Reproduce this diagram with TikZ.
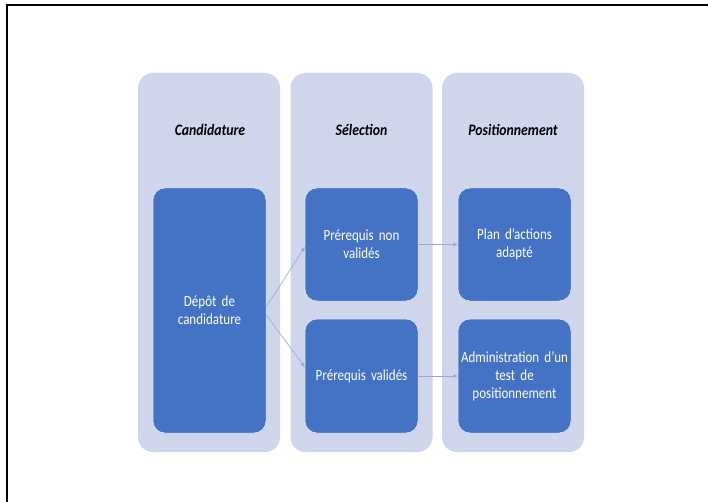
\documentclass[tikz,border=0pt]{standalone}
\usepackage{fontspec}
\setmainfont{Carlito}
\newfontfamily\narrowfont[FakeStretch=0.84]{Carlito}
\newfontfamily\titlefont[FakeStretch=0.86]{Carlito}
\newcommand\boxfont{\narrowfont\fontsize{15.5}{18}\selectfont\fontdimen2\font=3pt\relax}
\usetikzlibrary{arrows.meta,calc}
\definecolor{colbg}{HTML}{CFD5EA}
\definecolor{boxbg}{HTML}{4472C4}
\definecolor{arrowc}{HTML}{8FAADC}
\begin{document}
\begin{tikzpicture}[x=1pt,y=-1pt,
  column/.style={fill=colbg,rounded corners=15pt,minimum width=142pt,minimum height=379pt,inner sep=0pt,draw=none},
  title/.style={font=\titlefont\fontsize{16}{19}\selectfont\bfseries\itshape,text=black,inner sep=0pt},
  stepbox/.style={fill=boxbg,draw=colbg!50!white,line width=0.5pt,rounded corners=12pt,minimum width=113pt,inner sep=2pt,text=white,align=center,font=\boxfont,text width=109pt},
  conn/.style={draw=arrowc,line width=0.6pt,-{Triangle[length=4.5pt,width=3.5pt]}}
]
\useasboundingbox (0,0) rectangle (708,502);
\fill[white] (0,0) rectangle (708,502);
\coordinate (tl) at (7,5.5);
\coordinate (tr) at (708,5.5);
\coordinate (bl) at (7,502);
\draw[black,line width=2pt] (tr) -- (tl) -- (bl);

\node[column] (c1) at (209,262.5) {};
\node[column] (c2) at (361.5,262.5) {};
\node[column] (c3) at (513,262.5) {};

\node[title] (t1) at (210,130) {Candidature};
\node[title] (t2) at (361.5,130) {Sélection};
\node[title] (t3) at (513,130) {Positionnement};

\node[stepbox,minimum height=245pt] (dep) at (209.5,310.5) {Dépôt de\\candidature};
\node[stepbox,minimum height=113pt] (pnv) at (361.5,244.5) {Prérequis non\\validés};
\node[stepbox,minimum height=114pt] (pv) at (361.5,376) {Prérequis validés};
\node[stepbox,minimum height=113pt] (plan) at (514.5,244.5) {Plan d’actions\\adapté};
\node[stepbox,minimum height=114pt] (adm) at (514.5,376) {Administration d’un\\test de\\positionnement};

\draw[conn] ($(dep.east)+(0,-3.5)$) -- ($(pnv.west)+(0,2.5)$);
\draw[conn] ($(dep.east)+(0,4.5)$) -- ($(pv.west)+(0,-9)$);
\draw[conn] (pnv.east) -- (plan.west);
\draw[conn] (pv.east) -- (adm.west);
\end{tikzpicture}
\end{document}
